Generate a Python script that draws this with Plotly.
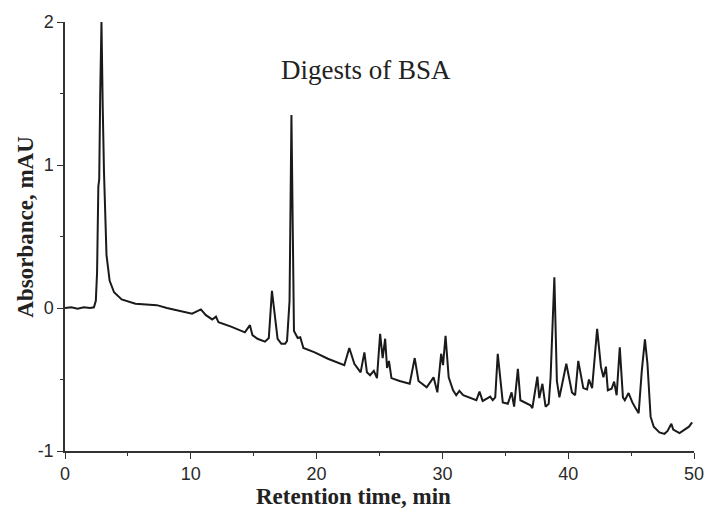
import plotly.graph_objects as go

# Retention time (min) and absorbance (mAU) of the BSA digest chromatogram
time_min = [
    0.0, 0.5, 1.0, 1.5, 2.0, 2.3, 2.45, 2.55, 2.65, 2.72, 2.8, 2.9, 3.0, 3.1,
    3.3, 3.55, 3.9, 4.5, 5.6, 7.3, 8.1, 9.6, 10.1, 10.8, 11.2, 11.7, 12.0,
    12.2, 13.2, 14.3, 14.7, 14.9, 15.3, 15.9, 16.2, 16.45, 16.7, 16.9, 17.2,
    17.5, 17.65, 17.85, 18.0, 18.2, 18.5, 18.7, 18.95, 19.85, 20.9, 21.65,
    22.2, 22.6, 23.0, 23.5, 23.8, 24.0, 24.25, 24.55, 24.8, 25.05, 25.25,
    25.45, 25.6, 25.75, 25.95, 26.6, 27.4, 27.8, 28.1, 28.75, 29.3, 29.6,
    29.9, 30.05, 30.25, 30.5, 30.85, 31.1, 31.35, 31.65, 32.1, 32.7, 32.95,
    33.2, 33.6, 33.8, 34.0, 34.2, 34.4, 34.65, 34.8, 35.2, 35.5, 35.7, 36.0,
    36.2, 36.6, 37.0, 37.15, 37.55, 37.7, 37.95, 38.2, 38.45, 38.6, 38.9,
    39.1, 39.3, 39.5, 39.85, 40.3, 40.55, 40.8, 41.2, 41.5, 41.65, 41.9,
    42.3, 42.6, 42.8, 43.0, 43.15, 43.45, 43.65, 43.85, 44.1, 44.35, 44.5,
    44.8, 45.1, 45.35, 45.6, 45.85, 46.1, 46.3, 46.55, 46.8, 47.25, 47.65,
    47.9, 48.2, 48.35, 48.85, 49.2, 49.6, 49.85,
]
absorbance = [
    0.0, 0.005, -0.005, 0.005, 0.0, 0.005, 0.05, 0.25, 0.85, 0.9, 1.5, 2.0,
    1.4, 0.95, 0.37, 0.19, 0.11, 0.06, 0.03, 0.02, 0.0, -0.03, -0.04, -0.01,
    -0.05, -0.08, -0.06, -0.10, -0.13, -0.17, -0.12, -0.19, -0.215, -0.235,
    -0.21, 0.12, -0.09, -0.215, -0.25, -0.25, -0.23, 0.05, 1.35, -0.16,
    -0.21, -0.205, -0.28, -0.31, -0.355, -0.38, -0.40, -0.28, -0.39, -0.45,
    -0.31, -0.45, -0.47, -0.44, -0.49, -0.18, -0.35, -0.215, -0.42, -0.37,
    -0.49, -0.51, -0.53, -0.35, -0.51, -0.555, -0.485, -0.59, -0.32, -0.40,
    -0.195, -0.485, -0.575, -0.61, -0.58, -0.61, -0.625, -0.645, -0.585,
    -0.65, -0.63, -0.62, -0.645, -0.625, -0.32, -0.555, -0.66, -0.67, -0.59,
    -0.69, -0.425, -0.645, -0.66, -0.68, -0.70, -0.48, -0.63, -0.53, -0.69,
    -0.67, -0.485, 0.215, -0.51, -0.625, -0.54, -0.39, -0.59, -0.61, -0.37,
    -0.56, -0.57, -0.50, -0.56, -0.146, -0.41, -0.485, -0.41, -0.575, -0.565,
    -0.515, -0.61, -0.275, -0.625, -0.645, -0.595, -0.66, -0.70, -0.735,
    -0.44, -0.22, -0.39, -0.76, -0.83, -0.87, -0.88, -0.86, -0.81, -0.85,
    -0.875, -0.855, -0.83, -0.80,
]

x_tick_vals = [0, 10, 20, 30, 40, 50]
x_tick_text = ["0", "10", "20", "30", "40", "50"]
y_tick_vals = [-1, 0, 1, 2]
y_tick_text = ["-1", "0", "1", "2"]

ink = "#1a1a1a"
serif = "Liberation Serif, Times New Roman, serif"
sans = "Liberation Sans, Arial, sans-serif"

fig = go.Figure()
fig.add_trace(go.Scatter(
    x=time_min, y=absorbance, mode="lines",
    line=dict(color=ink, width=2.0), showlegend=False, cliponaxis=False,
))

axis_common = dict(
    showgrid=False, zeroline=False, showline=True, linecolor="#333333",
    linewidth=1.5, ticks="outside", ticklen=6, tickwidth=1.3,
    tickcolor="#333333", tickfont=dict(family=sans, size=18, color="#2a2a2a"),
)

fig.update_xaxes(range=[0, 50], tickvals=x_tick_vals, ticktext=x_tick_text,
                 minor=dict(dtick=5, tick0=0, ticks="outside", ticklen=3,
                            tickwidth=1.3, tickcolor="#333333"),
                 **axis_common)
fig.update_yaxes(range=[-1, 2], tickvals=y_tick_vals, ticktext=y_tick_text,
                 minor=dict(dtick=0.5, tick0=0, ticks="outside", ticklen=3,
                            tickwidth=1.3, tickcolor="#333333"),
                 **axis_common)

fig.add_annotation(text="Digests of BSA", xref="paper", yref="paper",
                   x=0.478, y=0.889, xanchor="center", yanchor="middle",
                   showarrow=False, font=dict(family=serif, size=27, color="#222222"))
fig.add_annotation(text="<b>Retention time, min</b>", xref="paper", yref="paper",
                   x=0.458, y=-0.107, xanchor="center", yanchor="middle",
                   showarrow=False, font=dict(family=serif, size=23, color="#222222"))
fig.add_annotation(text="<b>Absorbance, mAU</b>", xref="paper", yref="paper",
                   x=-0.062, y=0.523, xanchor="center", yanchor="middle",
                   textangle=-90, showarrow=False,
                   font=dict(family=serif, size=23, color="#222222"))

fig.update_layout(
    width=716, height=512,
    margin=dict(l=65, r=16, t=19, b=61),
    plot_bgcolor="white", paper_bgcolor="white",
)

fig.write_html("out.html")
